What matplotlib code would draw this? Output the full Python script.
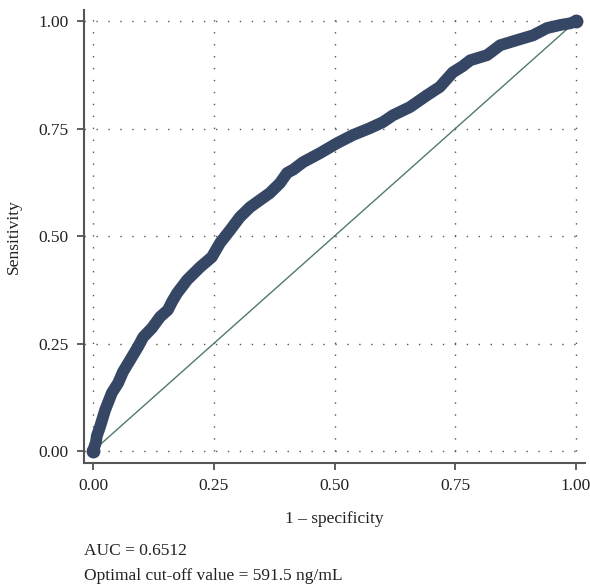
import matplotlib
matplotlib.use("Agg")
import matplotlib.pyplot as plt

# ROC curve points
fpr = [0.0, 0.006, 0.008, 0.0145, 0.025, 0.039, 0.052, 0.062, 0.077, 0.093, 0.104,
       0.122, 0.139, 0.155, 0.164, 0.174, 0.195, 0.222, 0.246, 0.263, 0.284, 0.304,
       0.325, 0.346, 0.366, 0.387, 0.402, 0.415, 0.435, 0.47, 0.505, 0.538, 0.573,
       0.6, 0.621, 0.656, 0.692, 0.718, 0.745, 0.765, 0.781, 0.816, 0.843, 0.878,
       0.911, 0.94, 0.967, 0.988, 1.0]
tpr = [0.0, 0.02, 0.035, 0.056, 0.095, 0.135, 0.158, 0.184, 0.212, 0.242, 0.265,
       0.286, 0.312, 0.328, 0.348, 0.367, 0.398, 0.428, 0.451, 0.484, 0.514, 0.544,
       0.567, 0.584, 0.6, 0.623, 0.647, 0.655, 0.672, 0.693, 0.716, 0.735, 0.751,
       0.765, 0.781, 0.8, 0.828, 0.847, 0.881, 0.895, 0.909, 0.921, 0.944, 0.956,
       0.967, 0.984, 0.991, 0.995, 1.0]
ticks = [0.0, 0.25, 0.5, 0.75, 1.0]
tick_labels = ["0.00", "0.25", "0.50", "0.75", "1.00"]
auc_text = "AUC = 0.6512"
cutoff_text = "Optimal cut-off value = 591.5 ng/mL"

plt.rcParams['font.family'] = ['Liberation Serif', 'DejaVu Serif']

fig = plt.figure(figsize=(5.9, 5.88), dpi=100)
ax = fig.add_axes([0.1424, 0.2126, 0.8491, 0.7704])

ax.plot([0, 1], [0, 1], color='#4f7a6a', lw=1.0, zorder=2)
ax.plot(fpr, tpr, color='#364766', lw=8.5, solid_capstyle='round',
        solid_joinstyle='round', zorder=3)
ax.plot([fpr[0], fpr[-1]], [tpr[0], tpr[-1]], 'o', color='#364766',
        ms=9, zorder=4)

ax.set_xlim(-0.0186, 1.0186)
ax.set_ylim(-0.028, 1.026)
ax.set_xticks(ticks)
ax.set_xticklabels(tick_labels)
ax.set_yticks(ticks)
ax.set_yticklabels(tick_labels)
ax.tick_params(direction='out', length=5, width=1.2, color='#444444',
               labelsize=12.5, labelcolor='#222222', pad=6)

for s in ['top', 'right']:
    ax.spines[s].set_visible(False)
for s in ['left', 'bottom']:
    ax.spines[s].set_color('#555555')
    ax.spines[s].set_linewidth(1.5)

ax.grid(True, color='#555555', lw=1.0, linestyle=(0, (1, 7.6)))
ax.set_axisbelow(True)

ax.set_xlabel("1 \u2013 specificity", fontsize=12.5, color='#222222', labelpad=12)
ax.set_ylabel("Sensitivity", fontsize=12.5, color='#222222', labelpad=12)

fig.text(84 / 590, 1 - 551 / 588, auc_text, fontsize=12.5, color='#222222',
         va='center', ha='left')
fig.text(84 / 590, 1 - 576 / 588, cutoff_text, fontsize=12.5, color='#222222',
         va='center', ha='left')

fig.savefig("out.png", dpi=100)
